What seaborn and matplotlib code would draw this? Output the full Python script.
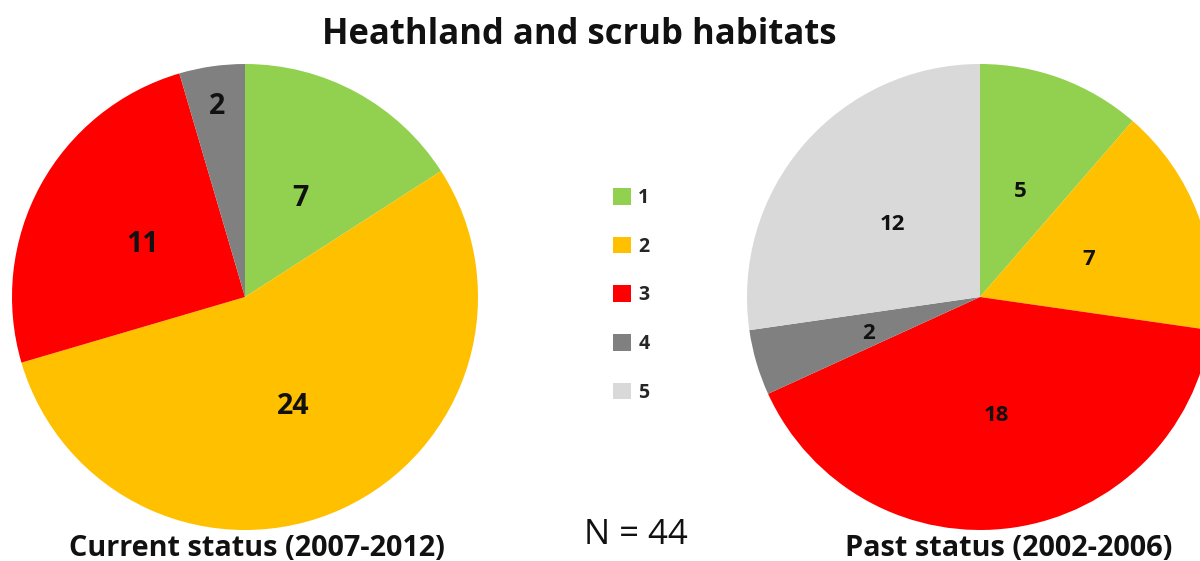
import numpy as np
import pandas as pd
import seaborn as sns
import matplotlib
matplotlib.use("Agg")
import matplotlib.pyplot as plt

# Habitat status counts per category
categories = ["1", "2", "3", "4", "5"]
current_counts = [7, 24, 11, 2, 0]
past_counts = [5, 7, 18, 2, 12]

title = "Heathland and scrub habitats"
current_title = "Current status (2007-2012)"
past_title = "Past status (2002-2006)"
total_label = "N = 44"

colors = ["#92D050", "#FFC000", "#FF0000", "#808080", "#D9D9D9"]

sns.set_theme(style="white")
plt.rcParams["font.family"] = ["Open Sans", "DejaVu Sans"]

W, H = 1200, 561
fig = plt.figure(figsize=(W / 100, H / 100), dpi=100)
fig.patch.set_facecolor("white")


def px_axes(cx, cy, r, pad=1.02):
    half = r * pad
    return fig.add_axes([(cx - half) / W, (H - cy - half) / H, 2 * half / W, 2 * half / H])


def draw_pie(ax, counts, fontsize, label_r):
    df = pd.DataFrame({"cat": categories, "n": counts, "color": colors})
    df = df[df["n"] > 0]
    wedges, _ = ax.pie(df["n"].tolist(), colors=df["color"].tolist(), startangle=90,
                       counterclock=False, radius=1,
                       wedgeprops=dict(linewidth=0))
    for w, (_, row) in zip(wedges, df.iterrows()):
        mid = np.deg2rad((w.theta1 + w.theta2) / 2)
        rr = label_r.get(row["cat"], 0.5)
        ax.text(rr * np.cos(mid), rr * np.sin(mid) - 0.015, str(row["n"]),
                ha="center", va="center", fontsize=fontsize,
                fontweight="bold", color="#111111")
    ax.set_xlim(-1.02, 1.02)
    ax.set_ylim(-1.02, 1.02)
    ax.set_aspect("equal")
    ax.axis("off")
    return wedges


ax_left = px_axes(245, 297, 233)
draw_pie(ax_left, current_counts, 20.5, {"4": 0.84})

ax_right = px_axes(980, 297, 233)
right_wedges = draw_pie(ax_right, past_counts, 16, {})

leg = fig.legend(right_wedges, categories, loc="upper left",
                 bbox_to_anchor=(613 / W, (H - 188) / H),
                 frameon=False, prop=dict(weight="bold", size=14),
                 handlelength=0.95, handleheight=0.95, handletextpad=0.35,
                 labelspacing=1.47, borderaxespad=0, borderpad=0)

fig.text(579 / W, (H - 35) / H, title, ha="center", va="center",
         fontsize=24.9, fontweight="bold", color="#111111")
fig.text(257 / W, (H - 548) / H, current_title, ha="center", va="center",
         fontsize=20.8, fontweight="bold", color="#111111")
fig.text(1009 / W, (H - 548) / H, past_title, ha="center", va="center",
         fontsize=20.8, fontweight="bold", color="#111111")
fig.text(636 / W, (H - 535) / H, total_label, ha="center", va="center",
         fontsize=25, color="#111111")

fig.savefig("out.png", dpi=100, facecolor="white")
